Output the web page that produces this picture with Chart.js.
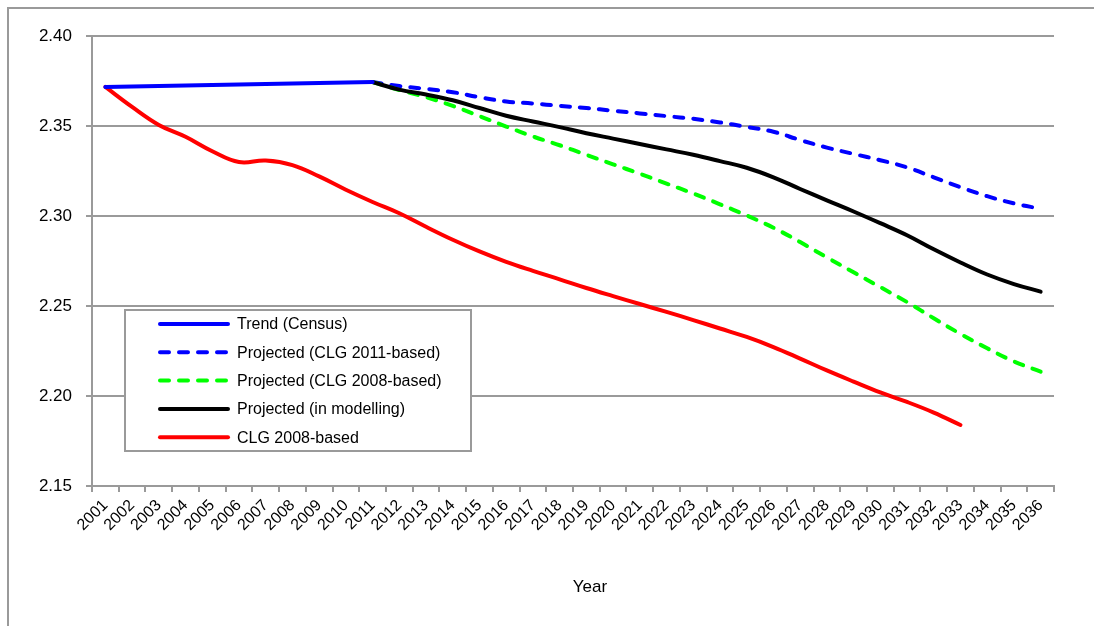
<!DOCTYPE html>
<html>
<head>
<meta charset="utf-8">
<script src="https://cdn.jsdelivr.net/npm/chart.js@4.4.1/dist/chart.umd.min.js"></script>
<style>
    body { margin: 0; background: #fff; }
    #wrap { position: relative; width: 1094px; height: 626px; }
    #frame { position: absolute; left: 7px; top: 7px; right: 0; bottom: 0; border-left: 2px solid #9a9a9a; border-top: 2px solid #9a9a9a; }
    #chart { position: absolute; left: 0; top: 0; }
</style>
</head>
<body>
<div id="wrap">
    <div id="frame"></div>
    <canvas id="chart" width="1094" height="626"></canvas>
</div>
<script>
// years on the x axis
const years = ['2001','2002','2003','2004','2005','2006','2007','2008','2009','2010','2011','2012',
    '2013','2014','2015','2016','2017','2018','2019','2020','2021','2022','2023','2024',
    '2025','2026','2027','2028','2029','2030','2031','2032','2033','2034','2035','2036'];

const yTicks = [2.15, 2.20, 2.25, 2.30, 2.35, 2.40];

// Trend (Census) - only the two census points
const trendCensus = [2.3717, null, null, null, null, null, null, null, null, null, 2.3744];

// Projected (CLG 2011-based)
const projected2011 = [null, null, null, null, null, null, null, null, null, null,
    2.3744, 2.3722, 2.3706, 2.3688, 2.3660, 2.3636, 2.3625, 2.3612, 2.3600, 2.3585,
    2.3570, 2.3555, 2.3540, 2.3520, 2.3495, 2.3468, 2.3422, 2.3380, 2.3345, 2.3310,
    2.3270, 2.3215, 2.3160, 2.3110, 2.3070, 2.3040];

// Projected (CLG 2008-based)
const projected2008 = [null, null, null, null, null, null, null, null, null, null,
    2.3744, 2.3700, 2.3660, 2.3612, 2.3555, 2.3497, 2.3442, 2.3393, 2.3340, 2.3287,
    2.3235, 2.3180, 2.3125, 2.3065, 2.3003, 2.2935, 2.2855, 2.2770, 2.2687, 2.2605,
    2.2522, 2.2432, 2.2345, 2.2265, 2.2192, 2.2135];

// Projected (in modelling)
const projectedModelling = [null, null, null, null, null, null, null, null, null, null,
    2.3744, 2.3702, 2.3675, 2.3643, 2.3600, 2.3557, 2.3525, 2.3494, 2.3460, 2.3430,
    2.3400, 2.3370, 2.3340, 2.3305, 2.3268, 2.3215, 2.3150, 2.3087, 2.3025, 2.2960,
    2.2893, 2.2815, 2.2742, 2.2675, 2.2622, 2.2580];

// CLG 2008-based
const clg2008 = [2.3717, 2.3606, 2.3506, 2.3440, 2.3360, 2.3300, 2.3308, 2.3283, 2.3220, 2.3146,
    2.3078, 2.3015, 2.2940, 2.2868, 2.2803, 2.2745, 2.2695, 2.2648, 2.2600, 2.2555,
    2.2511, 2.2467, 2.2422, 2.2375, 2.2328, 2.2272, 2.2208, 2.2142, 2.2080, 2.2020,
    2.1967, 2.1908, 2.1839];

const legendItems = [
    { label: 'Trend (Census)', color: '#0000ff', dash: [] },
    { label: 'Projected (CLG 2011-based)', color: '#0000ff', dash: [9, 10] },
    { label: 'Projected (CLG 2008-based)', color: '#00ff00', dash: [9, 10] },
    { label: 'Projected (in modelling)', color: '#000000', dash: [] },
    { label: 'CLG 2008-based', color: '#ff0000', dash: [] },
];

const gridGrey = '#9a9a9a';
const font = 'Liberation Sans, Arial, sans-serif';

// legend box inside the plot + x axis title
const boxLegend = {
    id: 'boxLegend',
    afterDraw(chart) {
        const ctx = chart.ctx;
        ctx.save();
        ctx.fillStyle = '#fff';
        ctx.fillRect(125, 310, 346, 141);
        ctx.strokeStyle = gridGrey;
        ctx.lineWidth = 2;
        ctx.strokeRect(125, 310, 346, 141);

        ctx.font = '16px ' + font;
        ctx.textBaseline = 'middle';
        legendItems.forEach((item, i) => {
            const y = 324 + i * 28.3;
            ctx.beginPath();
            ctx.strokeStyle = item.color;
            ctx.lineWidth = 4;
            ctx.lineCap = 'round';
            ctx.setLineDash(item.dash);
            ctx.moveTo(160, y);
            ctx.lineTo(228, y);
            ctx.stroke();
            ctx.setLineDash([]);
            ctx.fillStyle = '#000';
            ctx.fillText(item.label, 237, y + 1);
        });

        ctx.font = '17px ' + font;
        ctx.textAlign = 'center';
        ctx.fillText('Year', 590, 587);
        ctx.restore();
    }
};

function line(label, data, color, dash, order) {
    return {
        label: label,
        data: data,
        borderColor: color,
        backgroundColor: color,
        borderWidth: 4,
        borderDash: dash,
        borderCapStyle: 'round',
        borderJoinStyle: 'round',
        pointRadius: 0,
        pointHoverRadius: 0,
        tension: 0.4,
        spanGaps: true,
        fill: false,
        order: order,
    };
}

const ctx = document.getElementById('chart').getContext('2d');
new Chart(ctx, {
    type: 'line',
    data: {
        labels: years,
        datasets: [
            line('Trend (Census)', trendCensus, '#0000ff', [], 1),
            line('Projected (CLG 2011-based)', projected2011, '#0000ff', [9, 10], 4),
            line('Projected (CLG 2008-based)', projected2008, '#00ff00', [9, 10], 3),
            line('Projected (in modelling)', projectedModelling, '#000000', [], 2),
            line('CLG 2008-based', clg2008, '#ff0000', [], 5),
        ],
    },
    options: {
        responsive: false,
        animation: false,
        layout: {
            padding: { top: 36, right: 40, bottom: 0, left: 0 },
        },
        plugins: {
            legend: { display: false },
            tooltip: { enabled: false },
        },
        scales: {
            x: {
                offset: true,
                grid: {
                    offset: true,
                    drawOnChartArea: false,
                    drawTicks: true,
                    tickLength: 6,
                    color: gridGrey,
                    lineWidth: 2,
                },
                border: { display: true, color: gridGrey, width: 2 },
                ticks: {
                    autoSkip: false,
                    minRotation: 45,
                    maxRotation: 45,
                    padding: 4,
                    color: '#000',
                    font: { family: font, size: 16 },
                },
                afterFit(scale) { scale.height = 140; },
            },
            y: {
                min: yTicks[0],
                max: yTicks[yTicks.length - 1],
                afterBuildTicks(scale) {
                    scale.ticks = yTicks.map(v => ({ value: v }));
                },
                grid: {
                    color: gridGrey,
                    lineWidth: 2,
                    tickLength: 6,
                },
                border: { display: true, color: gridGrey, width: 2 },
                ticks: {
                    padding: 14,
                    color: '#000',
                    font: { family: font, size: 17 },
                    callback: v => v.toFixed(2),
                },
                afterFit(scale) { scale.width = 92; },
            },
        },
    },
    plugins: [boxLegend],
});
</script>
</body>
</html>
